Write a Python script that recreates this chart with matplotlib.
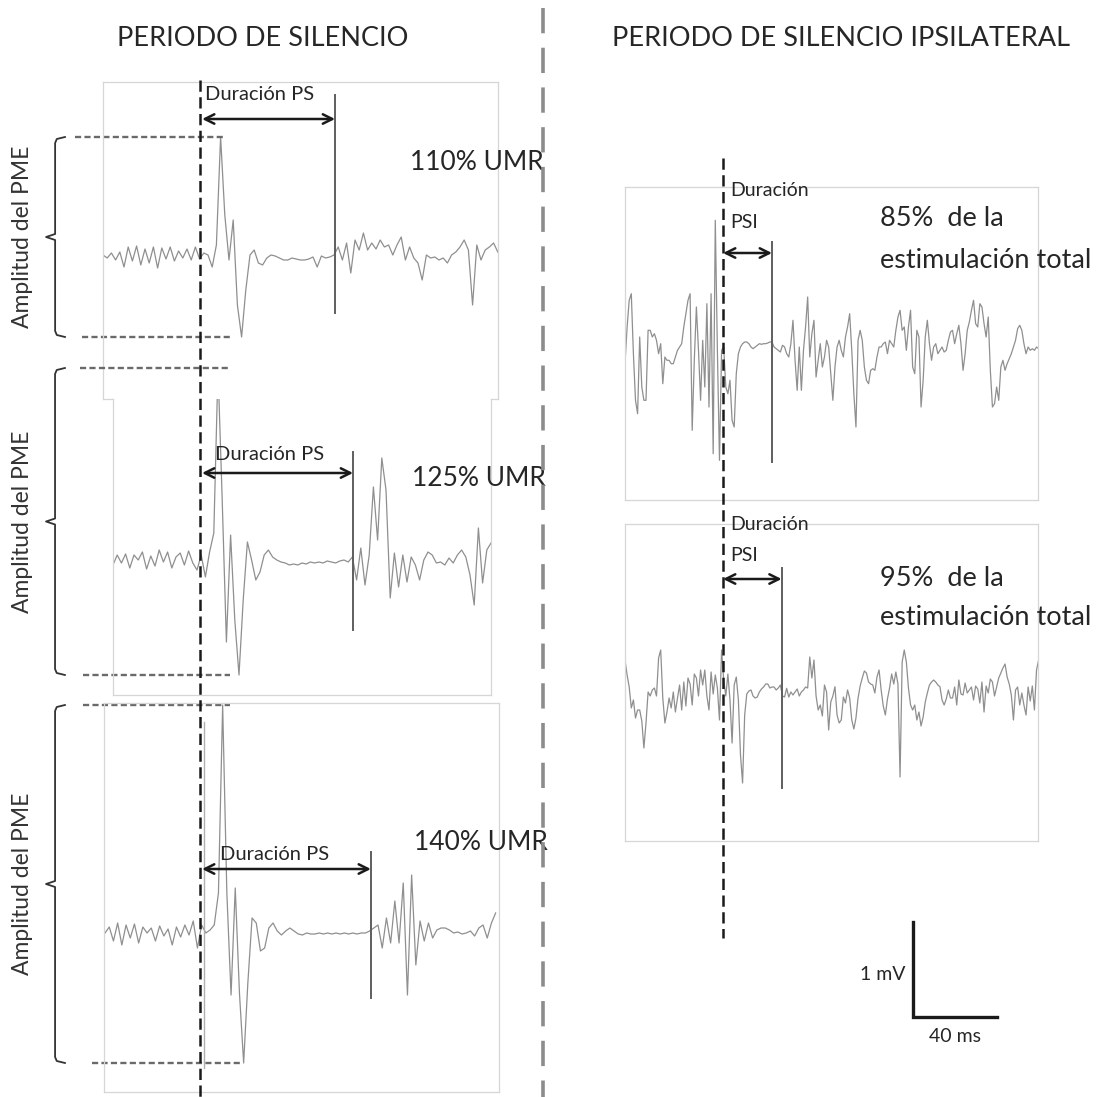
import numpy as np
import matplotlib
matplotlib.use("Agg")
import matplotlib.pyplot as plt
from matplotlib import transforms
from matplotlib.lines import Line2D

plt.rcParams['font.family'] = ['Lato', 'DejaVu Sans']

# ---------------- data (time in ms relative to stimulus, amplitude in microvolts) ----------------
left_title = "PERIODO DE SILENCIO"
right_title = "PERIODO DE SILENCIO IPSILATERAL"
left_labels = ["110% UMR", "125% UMR", "140% UMR"]
right_labels = ["85%  de la\nestimulación total", "95%  de la\nestimulación total"]
amp_label = "Amplitud del PME"
ps_label = "Duración PS"
psi_label = ["Duración", "PSI"]
scale_mv = 1.0
scale_ms = 40.0

# left traces: 2 ms sampling
t0_110 = -46.2
uv_110 = [0, -30, 20, -50, 30, -120, 80, -60, 90, -100, 60, -80, 80, -130, 70, -40, 80, -60, 40, -30,
          60, -50, 80, -40, 20, 0, -120, 100, 1180, 400, -50, 350, -500, -820, -350, 0, 50, -80, -100, -30,
          0, -10, -30, -50, -50, -30, -40, -50, -50, -40, -20, -120, -10, -30, -20, 0, 80, -50, 120, -180,
          150, 50, 220, 50, 120, 60, 150, 80, 100, 0, 100, 180, -50, 80, -30, -80, -250, 0, -30, -20,
          -50, -30, -80, 0, 30, 80, 150, 50, -500, 100, -50, 50, 80, 120, 30]
t0_125 = -41.4
uv_125 = [-50, 50, -30, 60, -80, 50, 0, 80, -90, 40, -60, 100, -20, 80, -80, 30, 70, -50, 90, -30,
          -100, 50, -170, 80, 270, 1920, 600, -820, 250, -600, -1150, -400, 180, 0, -200, -120, 50, 100, 30, 0,
          -20, -30, -50, -40, -50, -30, -40, -20, -30, -20, -30, -10, -20, -30, -10, 0, -20, 30, -200, 120,
          -250, 50, 730, 200, 1020, 700, -380, 70, -270, 50, -220, 30, -50, -200, 0, 80, 50, -30, -20, -50,
          20, -30, 50, 100, 30, -150, -450, 320, -230, 100, 170]
t0_140 = -45.2
uv_140 = [0, 60, -80, 100, -120, 80, -50, 90, -100, 60, 0, 50, -80, 70, -30, 40, -120, 60, -40, 80,
          -20, 120, -150, 80, 0, 30, 80, 400, 2280, 400, -620, 450, -600, -1300, -500, 150, 100, -180, -150, 50,
          100, 20, -20, 20, 50, 20, -10, -20, 0, -10, -10, 0, -10, 0, -10, 0, -10, 0, -10, 0,
          -10, 0, 0, 20, 50, 80, -150, 150, -100, 320, -100, 500, -620, 580, -320, 120, -80, 100, -50, 30,
          50, 50, 30, 0, 10, -10, 0, 20, -30, 50, 80, -50, 100, 200]
artifact_140_ms = 1.8

# right traces: 1 ms sampling
t0_85 = -46.7
uv_85 = [-167, 200, 467, 533, -67, -533, -667, 100, -400, -533,
         -533, 167, 167, 100, 133, 67, -67, 33, -367, -100,
         -133, -133, -167, -167, -100, -33, 0, 33, 200, 333,
         467, 533, -833, -133, 400, -33, -533, 67, -400, 433,
         -600, 533, -1067, 1267, -33, -1133, -33, 0, -400, -467,
         -333, -733, -800, -267, -67, 0, 33, 50, 50, 33,
         0, -17, 0, 17, 33, 27, 33, 33, 40, 50,
         50, 0, -17, -33, -50, 17, 0, -67, -100, 33,
         267, -133, -433, 0, -433, -33, 200, 500, -100, 133,
         267, -300, -133, 33, -200, -100, 67, 0, -267, -533,
         -200, 0, 67, -33, -100, 100, 200, 333, -33, -467,
         -800, 67, 167, 67, -200, -333, -367, -233, -217, -233,
         -100, 0, 0, 33, 50, -67, 67, 33, 0, 167,
         300, 367, 167, 200, -33, 200, 367, -200, -267, 167,
         100, -600, -333, 100, 267, 33, -133, 0, 33, -67,
         -33, 0, -50, -33, 67, 150, 167, 33, 133, 217,
         33, -233, -67, 167, 250, 367, 467, 233, 200, 433,
         400, 233, 100, 300, -233, -600, -567, -400, -533, -200,
         -133, -233, -167, -117, -67, 0, 67, 183, 217, 167,
         33, -67, 0, -33, -17, -33, 0, -17]
t0_95 = -46.7
uv_95 = [300, 150, 30, -180, -100, -280, -200, -200, -310, -580,
         -330, -20, -60, 0, 20, -60, 320, 400, -80, -330,
         -220, -80, -180, -20, -220, -80, 50, -200, 80, -160,
         120, 60, -150, 160, 120, -60, 200, 50, 200, -60,
         -200, 180, -40, 150, 20, -300, 400, 100, -60, 160,
         -100, -530, 50, 130, -100, -650, -930, -250, -40, -10,
         0, -60, -80, -70, -20, 10, 30, 60, 60, 20,
         30, 30, 0, 20, 50, -60, -70, 17, -70, -20,
         -50, -20, 10, -60, -20, 0, 30, 20, 330, 120,
         300, -60, -200, -150, -260, 50, -20, -400, -120, -60,
         33, -250, -330, -300, -70, -130, 0, -80, -300, -390,
         -280, -80, 40, 120, 190, 170, 80, 60, 50, -30,
         130, 200, 0, -160, -250, -90, 20, 160, 60, 180,
         60, -870, 280, 400, 280, 20, -150, -200, -150, -300,
         -220, -360, -270, -120, -30, 50, 80, 100, 80, 50,
         33, -100, -150, -90, 0, -80, -80, 30, -150, 100,
         -40, -50, 70, -30, 0, 30, -100, 40, 10, -130,
         80, -220, 40, -30, 110, 80, -60, 30, 120, 170,
         220, 260, 130, 60, -50, -300, 0, 30, -150, -30,
         -150, -250, 30, -110, 40, -200, 200, 300]

# silent-period end (ms after stimulus)
ps_end_left = [64.3, 72.9, 81.4]
ps_end_right = [23.3, 27.9]

# ---------------- layout (pixels) ----------------
W, H = 1098, 1097
fig = plt.figure(figsize=(W / 100, H / 100), dpi=100)


def add_ax(x, y, w, h):
    return fig.add_axes([x / W, 1 - (y + h) / H, w / W, h / H])


def fy(y):
    return 1 - y / H


BOX = '#d6d6d6'
TRACE = '#8f8f8f'
TXT = '#262626'

left_specs = [
    dict(rect=(103, 82, 395, 317), xlim=(-46.2, 141.9), ylim=(-1.44, 1.73), t0=t0_110, uv=uv_110,
         sp=('left', 'right', 'top'), arrow_y=1.36, line=(-0.58, 1.60), lab=(2.4, 1.61), big=(100, 0.92),
         dtop=(-59.5, 11.0), dbot=(-56.2, 14.3)),
    dict(rect=(113, 399, 378, 296), xlim=(-41.4, 138.6), ylim=(-1.35, 1.61), t0=t0_125, uv=uv_125,
         sp=('left', 'right', 'bottom'), arrow_y=0.87, line=(-0.70, 1.08), lab=(7.1, 1.05), big=(101, 0.82),
         dtop=(-57.1, 13.3), dbot=(-55.7, 14.3)),
    dict(rect=(104, 703, 395, 389), xlim=(-45.7, 142.4), ylim=(-1.59, 2.30), t0=t0_140, uv=uv_140,
         sp=('left', 'right', 'top', 'bottom'), arrow_y=0.64, line=(-0.65, 0.81), lab=(9.5, 0.79), big=(102, 0.90),
         dtop=(-55.7, 14.3), dbot=(-51.4, 19.0)),
]

left_axes = []
for k, s in enumerate(left_specs):
    ax = add_ax(*s['rect'])
    ax.set_xlim(*s['xlim'])
    ax.set_ylim(*s['ylim'])
    ax.set_xticks([]); ax.set_yticks([])
    ax.patch.set_alpha(0)
    for name, sp in ax.spines.items():
        sp.set_visible(name in s['sp'])
        sp.set_color(BOX); sp.set_linewidth(0.9)
    v = np.array(s['uv']) / 1000.0
    t = s['t0'] + 2.0 * np.arange(len(v))
    ax.plot(t, v, color=TRACE, lw=0.9, solid_joinstyle='round')
    pe = ps_end_left[k]
    ax.plot([pe, pe], s['line'], color='#5e5e5e', lw=1.4)
    ax.annotate('', xy=(pe, s['arrow_y']), xytext=(1.0, s['arrow_y']),
                arrowprops=dict(arrowstyle='<->', lw=1.8, color='#1a1a1a', mutation_scale=17,
                                shrinkA=0, shrinkB=0), annotation_clip=False)
    ax.text(s['lab'][0], s['lab'][1], ps_label, fontsize=14.5, color=TXT, va='center', ha='left')
    ax.text(s['big'][0], s['big'][1], left_labels[k], fontsize=19, color=TXT, va='center', ha='left',
            clip_on=False)
    top, bot = v.max(), v.min()
    ax.plot(s['dtop'], [top, top], color='#6a6a6a', lw=1.7, ls=(0, (2.6, 1.4)), clip_on=False)
    ax.plot(s['dbot'], [bot, bot], color='#6a6a6a', lw=1.7, ls=(0, (2.6, 1.4)), clip_on=False)
    mid = (top + bot) / 2
    bx, hx, nx = -69.0, -64.3, -73.3
    ax.plot([hx, bx + 0.8, bx, bx, nx, bx, bx, bx + 0.8, hx],
            [top, top - 0.02, top - 0.06, mid + 0.03, mid, mid - 0.03, bot + 0.06, bot + 0.02, bot],
            color='#333333', lw=1.3, clip_on=False, solid_joinstyle='round')
    ax.text(-84.3, mid, amp_label, rotation=90, fontsize=16.5, color='#333333', ha='center', va='center',
            clip_on=False)
    if k == 2:
        ax.plot([artifact_140_ms, artifact_140_ms], [-1.35, 2.11], color='#b0b0b0', lw=1.0)
    left_axes.append(ax)

# step joins of the first two frames
ax1 = left_axes[0]
ax1.plot([0, 10 / 395], [0, 0], transform=ax1.transAxes, color=BOX, lw=0.9, clip_on=False)
ax1.plot([388 / 395, 1], [0, 0], transform=ax1.transAxes, color=BOX, lw=0.9, clip_on=False)

right_specs = [
    dict(rect=(625, 187, 413, 313), ylim=(-1.53, 1.60), t0=t0_85, uv=uv_85, arrow_y=0.94,
         line=(-1.15, 1.05), lab=(1.57, 1.25), big=(1.29, 0.87)),
    dict(rect=(625, 524, 413, 317), ylim=(-1.51, 1.66), t0=t0_95, uv=uv_95, arrow_y=1.11,
         line=(-0.98, 1.22), lab=(1.65, 1.34), big=(1.11, 0.72)),
]
right_axes = []
for k, s in enumerate(right_specs):
    ax = add_ax(*s['rect'])
    ax.set_xlim(-46.7, 150.0)
    ax.set_ylim(*s['ylim'])
    ax.set_xticks([]); ax.set_yticks([])
    ax.patch.set_alpha(0)
    for sp in ax.spines.values():
        sp.set_color(BOX); sp.set_linewidth(0.9)
    v = np.array(s['uv']) / 1000.0
    t = s['t0'] + 1.0 * np.arange(len(v))
    ax.plot(t, v, color=TRACE, lw=0.9, solid_joinstyle='round')
    pe = ps_end_right[k]
    ax.plot([pe, pe], s['line'], color='#5e5e5e', lw=1.4)
    ax.annotate('', xy=(pe, s['arrow_y']), xytext=(0.0, s['arrow_y']),
                arrowprops=dict(arrowstyle='<->', lw=1.8, color='#1a1a1a', mutation_scale=17,
                                shrinkA=0, shrinkB=0), annotation_clip=False)
    ax.text(3.3, s['lab'][0], psi_label[0], fontsize=14, color=TXT, va='center', ha='left', clip_on=False)
    ax.text(3.3, s['lab'][1], psi_label[1], fontsize=14, color=TXT, va='center', ha='left', clip_on=False)
    l1, l2 = right_labels[k].split('\n')
    ax.text(74.8, s['big'][0], l1, fontsize=19.5, color=TXT, va='center', ha='left', clip_on=False)
    ax.text(74.8, s['big'][1], l2, fontsize=19.5, color=TXT, va='center', ha='left', clip_on=False)
    right_axes.append(ax)

# stimulus dashed lines spanning panels
trL = transforms.blended_transform_factory(left_axes[0].transData, fig.transFigure)
fig.add_artist(Line2D([0, 0], [fy(80), fy(1097)], transform=trL, color='#1a1a1a', lw=1.8,
                      ls=(0, (4.5, 2.2))))
trR = transforms.blended_transform_factory(right_axes[0].transData, fig.transFigure)
fig.add_artist(Line2D([0, 0], [fy(158), fy(938)], transform=trR, color='#1a1a1a', lw=1.8,
                      ls=(0, (4.5, 2.2))))

# central divider
fig.add_artist(Line2D([543 / W, 543 / W], [fy(8), fy(1097)], transform=fig.transFigure,
                      color='#8c8c8c', lw=2.6, ls=(0, (7, 4))))

# titles
fig.text(263 / W, fy(38), left_title, fontsize=19.5, color=TXT, ha='center', va='center')
fig.text(841 / W, fy(38), right_title, fontsize=19.5, color=TXT, ha='center', va='center')

# scale bar
axs = add_ax(913, 922, 84, 95)
axs.set_xlim(0, scale_ms)
axs.set_ylim(0, scale_mv)
axs.axis('off')
axs.plot([0, 0, scale_ms], [scale_mv, 0, 0], color='#1a1a1a', lw=2.4, clip_on=False,
         solid_joinstyle='miter')
axs.text(-3.5, 0.45, f"{scale_mv:g} mV", fontsize=14, color=TXT, ha='right', va='center')
axs.text(scale_ms / 2, -0.21, f"{scale_ms:g} ms", fontsize=14, color=TXT, ha='center', va='center')

fig.savefig('out.png', dpi=100)
